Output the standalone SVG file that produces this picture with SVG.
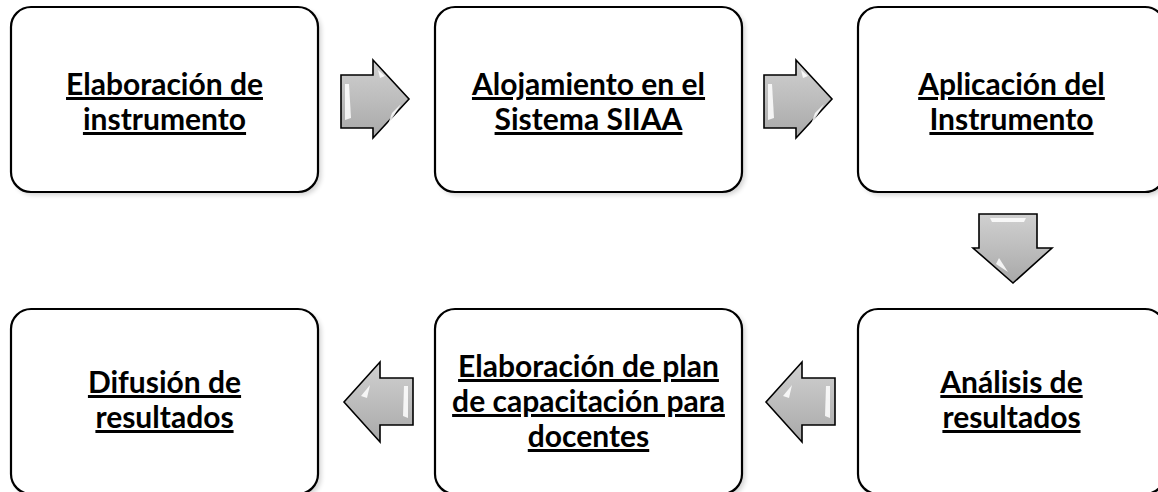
<svg xmlns="http://www.w3.org/2000/svg" width="1158" height="492" viewBox="0 0 1158 492">
<style>
.box{fill:#fff;stroke:#000;stroke-width:2.2}
.shadow{fill:#000;opacity:0.18;filter:url(#blur)}
.lbl{font-family:Lato,"Open Sans","Liberation Sans",sans-serif;font-weight:bold;font-size:30px;fill:#000;text-anchor:middle;text-decoration:underline}
.arr{fill:url(#ag);stroke:#000;stroke-width:1.6;stroke-linejoin:miter}
.hl{fill:#fff;opacity:0.85}
</style>
<defs>
<filter id="blur" x="-10%" y="-10%" width="120%" height="120%"><feGaussianBlur stdDeviation="2.5"/></filter>
<linearGradient id="ag" x1="0" y1="0" x2="0" y2="1">
<stop offset="0" stop-color="#d0d0d0"/>
<stop offset="0.5" stop-color="#bdbdbd"/>
<stop offset="1" stop-color="#a8a8a8"/>
</linearGradient>
</defs>
<rect width="1158" height="492" fill="#fff"/>

<g id="node1">
<rect class="shadow" x="14" y="10" width="307" height="185" rx="20"/>
<rect class="box" x="11" y="7" width="307" height="185" rx="20"/>
<text class="lbl" x="164.5" y="95">Elaboración de</text>
<text class="lbl" x="164.5" y="130">instrumento</text>
</g>
<g id="node2">
<rect class="shadow" x="438" y="10" width="307" height="185" rx="20"/>
<rect class="box" x="435" y="7" width="307" height="185" rx="20"/>
<text class="lbl" x="588.5" y="95">Alojamiento en el</text>
<text class="lbl" x="588.5" y="130">Sistema SIIAA</text>
</g>
<g id="node3">
<rect class="shadow" x="861" y="10" width="307" height="185" rx="20"/>
<rect class="box" x="858" y="7" width="307" height="185" rx="20"/>
<text class="lbl" x="1011.5" y="95">Aplicación del</text>
<text class="lbl" x="1011.5" y="130">Instrumento</text>
</g>
<g id="node4">
<rect class="shadow" x="861" y="312" width="307" height="185" rx="20"/>
<rect class="box" x="858" y="309" width="307" height="185" rx="20"/>
<text class="lbl" x="1011.5" y="393">Análisis de</text>
<text class="lbl" x="1011.5" y="428">resultados</text>
</g>
<g id="node5">
<rect class="shadow" x="438" y="312" width="307" height="185" rx="20"/>
<rect class="box" x="435" y="309" width="307" height="185" rx="20"/>
<text class="lbl" x="588.5" y="377">Elaboración de plan</text>
<text class="lbl" x="588.5" y="412">de capacitación para</text>
<text class="lbl" x="588.5" y="447">docentes</text>
</g>
<g id="node6">
<rect class="shadow" x="14" y="312" width="307" height="185" rx="20"/>
<rect class="box" x="11" y="309" width="307" height="185" rx="20"/>
<text class="lbl" x="164.5" y="393">Difusión de</text>
<text class="lbl" x="164.5" y="428">resultados</text>
</g>

<g id="connectors">
<g id="arrow1">
<path class="arr" d="M341,75 H373 V60 L409,99 L373,138 V128 H341 Z"/>
<path class="hl" d="M345,84 L349,84 L351,118 L345,120 Z"/>
<path class="hl" d="M392,113 L401,104 L387,127 Z"/>
<path class="hl" d="M378,70 L385,76 L380,78 Z" opacity="0.6"/>
</g>
<g id="arrow2">
<path class="arr" d="M764,75 H796 V60 L832,99 L796,138 V128 H764 Z"/>
<path class="hl" d="M768,84 L772,84 L774,118 L768,120 Z"/>
<path class="hl" d="M815,113 L824,104 L810,127 Z"/>
<path class="hl" d="M801,70 L808,76 L803,78 Z" opacity="0.6"/>
</g>
<g id="arrow3">
<path class="arr" d="M979,214 H1037 V248 H1052 L1013,283 L973,248 H979 Z"/>
<path class="hl" d="M990,218 L1026,218 L1024,222 L992,222 Z"/>
<path class="hl" d="M999,258 L1008,272 L996,264 Z"/>
</g>
<g id="arrow4">
<path class="arr" d="M835,378 H802 V362 L766,402 L802,442 V425 H835 Z"/>
<path class="hl" d="M826,386 L830,386 L830,418 L825,416 Z"/>
<path class="hl" d="M783,396 L792,385 L789,398 Z"/>
</g>
<g id="arrow5">
<path class="arr" d="M413,378 H380 V362 L344,402 L380,442 V425 H413 Z"/>
<path class="hl" d="M404,386 L408,386 L408,418 L403,416 Z"/>
<path class="hl" d="M361,396 L370,385 L367,398 Z"/>
</g>
</g>
</svg>
